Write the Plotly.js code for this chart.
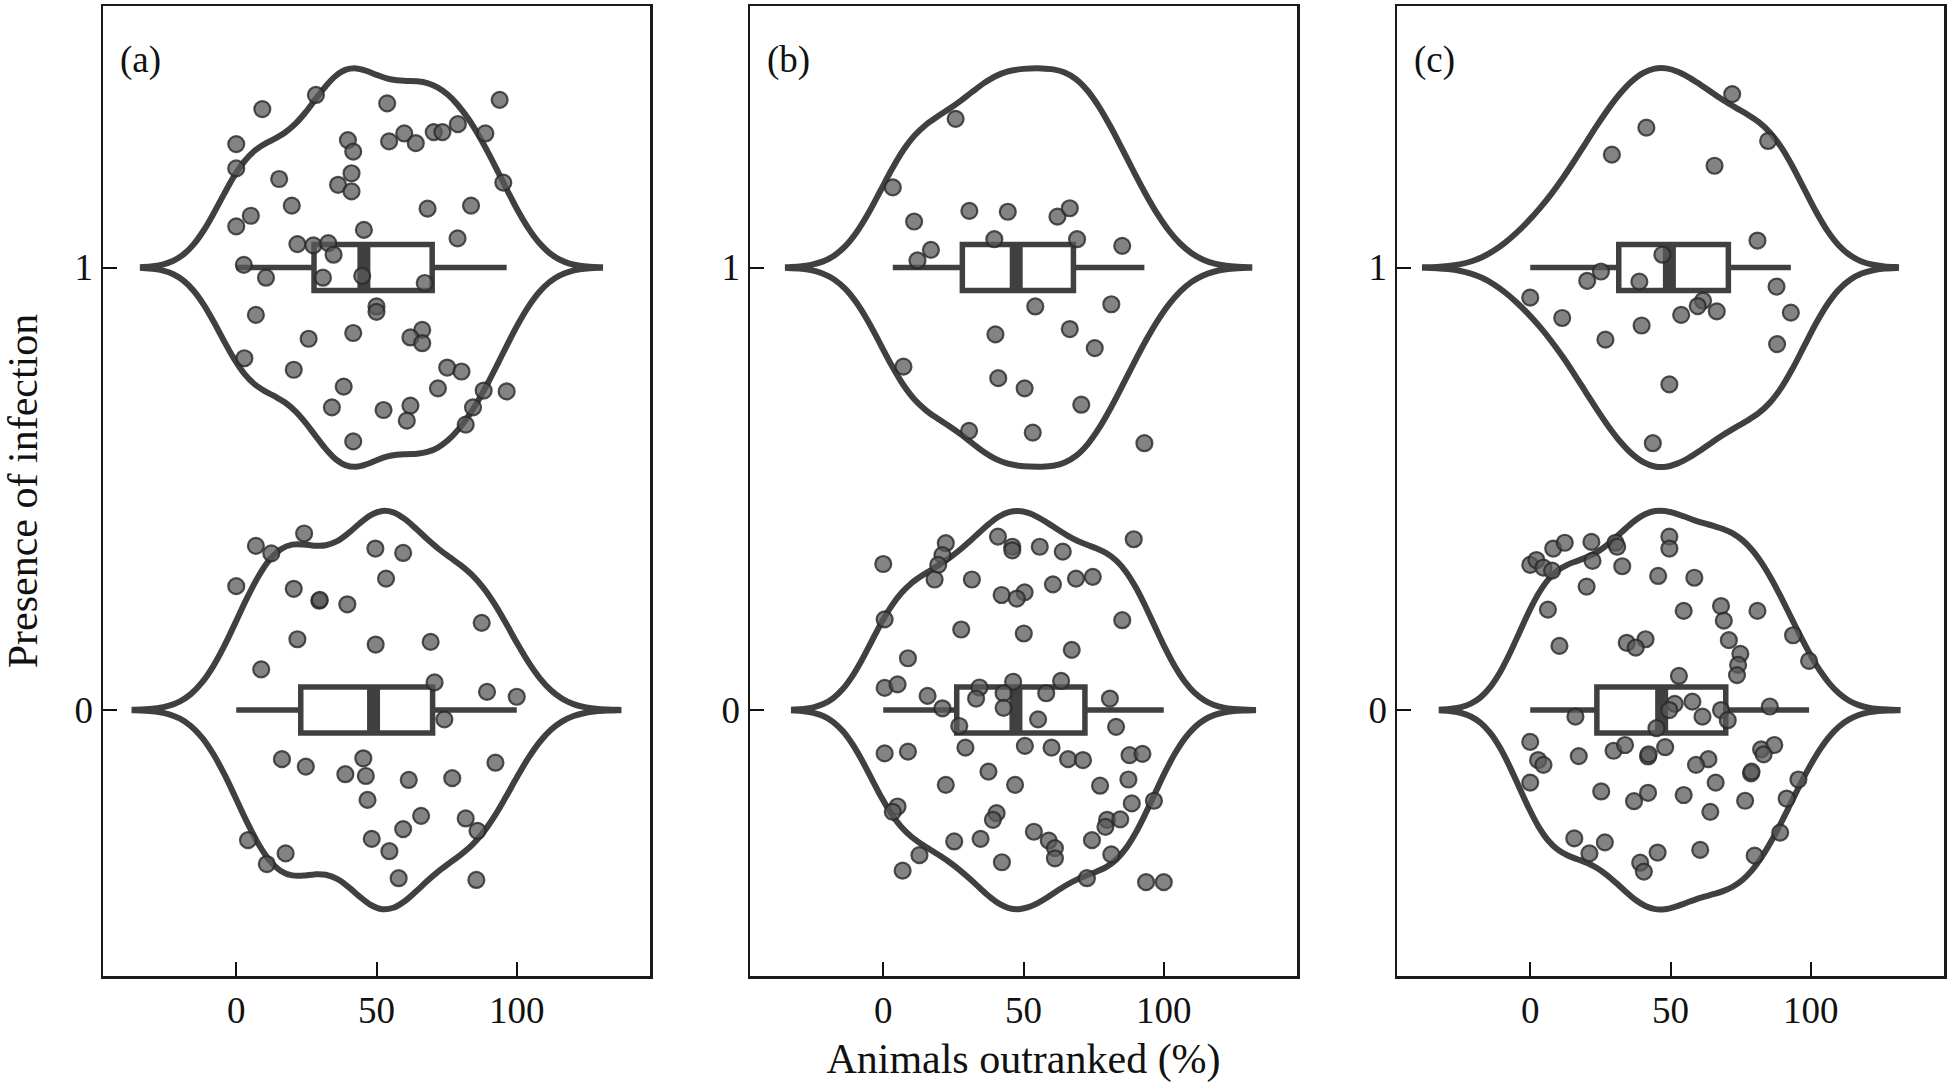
<!DOCTYPE html>
<html><head><meta charset="utf-8">
<script src="https://cdn.plot.ly/plotly-3.0.1.min.js"></script>
<style>html,body{margin:0;padding:0;background:#fff}#chart{width:1950px;height:1084px}</style>
</head><body><div id="chart"></div>
<script>
// ---------- data ----------
const panelLabels = ['(a)', '(b)', '(c)'];
const infectionLevels = [1, 0];
const xTickVals = [0, 50, 100];
const yTickVals = [0, 1];
const xTitle = 'Animals outranked (%)';
const yTitle = 'Presence of infection';

// (a) infected (1)
const aTopX = [28.4, 9.3, 53.8, 93.9, 0, 0, 15.3, 39.8, 41.7, 41.1, 36.3, 41.1, 54.5, 59.9, 64, 70.4, 73.5, 79, 88.8, 95.2, 19.8, 68.2, 83.7, 0, 5.2, 45.5, 78.9, 21.8, 27.5, 32.8, 34.7, 2.7, 10.6, 30.9, 44.9, 67.2, 50, 50, 7, 25.8, 41.7, 66.3, 62.1, 66.3, 2.9, 20.5, 75.2, 80.3, 38.3, 71.9, 88.2, 96.4, 34.1, 52.5, 62.1, 60.8, 84.4, 81.8, 41.7];
const aTopJit = [0.39, 0.358, 0.371, 0.379, 0.279, 0.224, 0.2, 0.288, 0.262, 0.213, 0.187, 0.172, 0.285, 0.303, 0.281, 0.306, 0.306, 0.324, 0.303, 0.192, 0.14, 0.133, 0.14, 0.093, 0.117, 0.085, 0.066, 0.053, 0.05, 0.055, 0.029, 0.006, -0.023, -0.023, -0.019, -0.035, -0.088, -0.1, -0.107, -0.161, -0.148, -0.141, -0.158, -0.171, -0.205, -0.231, -0.226, -0.235, -0.269, -0.273, -0.278, -0.28, -0.316, -0.322, -0.312, -0.346, -0.316, -0.355, -0.393];
// (a) not infected (0)
const aBotX = [24.2, 7, 12.5, 49.6, 59.5, 53.4, 0, 20.5, 29.6, 29.8, 39.6, 87.5, 21.8, 49.7, 69.3, 8.9, 70.7, 89.4, 100, 74.2, 16.3, 24.8, 45.3, 38.9, 46.2, 61.5, 77, 92.4, 46.8, 65.9, 59.5, 81.8, 86, 4.2, 17.6, 10.9, 48.3, 54.6, 57.9, 85.6];
const aBotJit = [0.399, 0.371, 0.354, 0.365, 0.355, 0.297, 0.28, 0.274, 0.247, 0.249, 0.239, 0.197, 0.16, 0.148, 0.154, 0.092, 0.0625, 0.041, 0.03, -0.021, -0.111, -0.128, -0.109, -0.145, -0.149, -0.158, -0.154, -0.119, -0.203, -0.239, -0.269, -0.245, -0.273, -0.294, -0.324, -0.348, -0.291, -0.319, -0.38, -0.384];

// (b)
const bTopX = [25.8, 3.4, 11, 30.7, 44.4, 62.1, 66.5, 17, 12.2, 39.6, 69.1, 85.2, 54.2, 81.3, 40, 66.5, 75.4, 7.2, 41, 50.4, 70.6, 30.6, 53.3, 93.1];
const bTopJit = [0.336, 0.181, 0.104, 0.128, 0.126, 0.115, 0.134, 0.04, 0.016, 0.064, 0.064, 0.049, -0.088, -0.083, -0.151, -0.139, -0.182, -0.224, -0.25, -0.273, -0.31, -0.369, -0.373, -0.397];
const bBotX = [40.9, 46, 46, 22.3, 21.1, 19.6, 18.3, 0, 55.8, 64,
  89.3, 31.6, 60.5, 68.7, 74.7, 42.2, 50.4, 47.6, 0.5, 85.2,
  27.8, 50.1, 67.2, 8.8, 0.5, 5.1, 15.8, 21.1, 34.3, 33.1,
  46.3, 42.9, 42.9, 63.4, 58.1, 80.8, 27.1, 55.2, 83, 0.5,
  8.8, 29.3, 50.5, 60, 65.9, 71.2, 87.8, 92.4, 37.5, 22.3,
  47, 77.3, 87.4, 96.5, 88.6, 5.1, 3.4, 40.4, 39.1, 79.8,
  84.5, 79.2, 53.7, 59, 61.2, 61.2, 25.3, 34.7, 74.4, 12.9,
  81.3, 42.3, 6.9, 72.6, 93.7, 100];
const bBotJit = [0.392, 0.369, 0.361, 0.377, 0.35, 0.328, 0.295, 0.33, 0.369, 0.358,
  0.386, 0.295, 0.284, 0.297, 0.301, 0.26, 0.266, 0.252, 0.205, 0.203,
  0.182, 0.173, 0.136, 0.117, 0.05, 0.058, 0.032, 0.004, 0.051, 0.026,
  0.064, 0.038, 0.005, 0.066, 0.038, 0.026, -0.036, -0.021, -0.038, -0.098,
  -0.094, -0.085, -0.081, -0.085, -0.111, -0.113, -0.102, -0.099, -0.139, -0.169,
  -0.169, -0.171, -0.157, -0.205, -0.211, -0.218, -0.23, -0.233, -0.248, -0.248,
  -0.247, -0.264, -0.275, -0.295, -0.312, -0.335, -0.297, -0.291, -0.294, -0.328,
  -0.326, -0.344, -0.363, -0.38, -0.389, -0.389];

// (c)
const cTopX = [72, 41.4, 29.1, 84.8, 65.7, 81, 47.1, 25.2, 20.3, 38.9, 0, 87.8, 61.6, 59.7, 53.8, 66.5, 92.9, 11.4, 39.7, 26.8, 88, 49.6, 43.7];
const cTopJit = [0.392, 0.316, 0.255, 0.286, 0.23, 0.061, 0.029, -0.009, -0.03, -0.032, -0.068, -0.043, -0.075, -0.087, -0.107, -0.099, -0.102, -0.114, -0.131, -0.163, -0.173, -0.264, -0.397];
const cBotX = [0, 2.2, 4.7, 7.8, 8.2, 12.3, 21.8, 30.4, 31, 22.2,
  32.8, 49.6, 49.6, 45.6, 58.5, 20.1, 6.3, 54.7, 68, 69,
  81, 70.8, 10.4, 34.4, 41.1, 37.6, 93.7, 74.9, 74.1, 73.7,
  99.4, 53, 51.5, 57.8, 49.6, 61.4, 68, 70.4, 85.4, 16.1,
  45, 0, 29.7, 33.8, 48.1, 42, 42.2, 17.3, 2.8, 4.7,
  82.3, 87, 83.2, 63.5, 59.1, 78.7, 78.9, 0, 66.1, 95.6,
  25.3, 42, 37, 54.7, 76.6, 91.4, 64.2, 89.1, 15.7, 26.6,
  21.1, 45.4, 60.6, 39.2, 40.5, 80];
const cBotJit = [0.328, 0.339, 0.322, 0.315, 0.365, 0.378, 0.38, 0.378, 0.369, 0.337,
  0.325, 0.392, 0.365, 0.303, 0.299, 0.279, 0.227, 0.224, 0.235, 0.202,
  0.224, 0.158, 0.145, 0.152, 0.16, 0.141, 0.169, 0.127, 0.102, 0.079,
  0.111, 0.077, 0.014, 0.019, 0, -0.015, 0, -0.023, 0.008, -0.015,
  -0.041, -0.072, -0.092, -0.079, -0.084, -0.105, -0.1, -0.104, -0.113, -0.124,
  -0.089, -0.079, -0.1, -0.111, -0.124, -0.143, -0.139, -0.164, -0.164, -0.157,
  -0.184, -0.187, -0.206, -0.192, -0.205, -0.2, -0.23, -0.277, -0.29, -0.299,
  -0.324, -0.322, -0.316, -0.345, -0.365, -0.329];

// ---------- helpers ----------
function quantile(sorted, p) {
  const h = (sorted.length - 1) * p, lo = Math.floor(h);
  const hi = Math.min(lo + 1, sorted.length - 1);
  return sorted[lo] + (h - lo) * (sorted[hi] - sorted[lo]);
}
function bwNrd0(v) {
  const n = v.length, m = v.reduce((a, b) => a + b, 0) / n;
  const sd = Math.sqrt(v.reduce((a, b) => a + (b - m) * (b - m), 0) / (n - 1));
  const s = [...v].sort((a, b) => a - b);
  const iqr = quantile(s, 0.75) - quantile(s, 0.25);
  return 0.9 * Math.min(sd, iqr / 1.34) * Math.pow(n, -0.2);
}

const panelData = [
  [[aTopX, aTopJit], [aBotX, aBotJit]],
  [[bTopX, bTopJit], [bBotX, bBotJit]],
  [[cTopX, cTopJit], [cBotX, cBotJit]]
];

// ---------- style ----------
const LC = '#404040';
const FONT = '"Liberation Serif", "Times New Roman", serif';
const VIOLIN_W = 0.9;
const BOX_FRAC = 0.1155;
const halfBox = VIOLIN_W / 2 * BOX_FRAC;

const traces = [];
const medianTraces = [];
const pointTraces = [];
panelData.forEach((groups, pi) => {
  const xa = pi === 0 ? 'x' : 'x' + (pi + 1);
  const ya = pi === 0 ? 'y' : 'y' + (pi + 1);
  groups.forEach(([vals, jit], gi) => {
    const level = infectionLevels[gi];
    const bw = bwNrd0(vals);
    const mn = Math.min(...vals), mx = Math.max(...vals);
    traces.push({
      type: 'violin', orientation: 'h', x: vals, y0: level,
      xaxis: xa, yaxis: ya, width: VIOLIN_W,
      scalegroup: 'p' + pi, scalemode: 'width',
      bandwidth: bw, spanmode: 'manual', span: [mn - 3 * bw, mx + 3 * bw],
      points: false, fillcolor: 'rgba(0,0,0,0)',
      line: {color: LC, width: 6},
      box: {visible: true, width: BOX_FRAC, fillcolor: '#ffffff', line: {color: LC, width: 5.5}},
      meanline: {visible: false}, showlegend: false, hoverinfo: 'skip'
    });
    const s = [...vals].sort((a, b) => a - b);
    const med = quantile(s, 0.5);
    medianTraces.push({
      type: 'scatter', mode: 'lines', x: [med, med], y: [level - halfBox, level + halfBox],
      xaxis: xa, yaxis: ya, line: {color: LC, width: 13}, showlegend: false, hoverinfo: 'skip'
    });
    pointTraces.push({
      type: 'scatter', mode: 'markers', x: vals, y: vals.map((_, k) => level + jit[k]),
      xaxis: xa, yaxis: ya, showlegend: false, hoverinfo: 'skip',
      marker: {size: 16, color: 'rgba(90,90,90,0.75)', line: {color: 'rgba(40,40,40,0.8)', width: 2.2}}
    });
  });
});

const W = 547 / 1841, G = 100 / 1841;
const domains = [[0, W], [W + G, 2 * W + G], [2 * W + 2 * G, 1]];

function xAxis(pi) {
  return {
    domain: domains[pi], anchor: pi === 0 ? 'y' : 'y' + (pi + 1),
    range: [-47.5, 147.5], tickvals: xTickVals, ticks: 'inside', ticklen: 14, tickwidth: 2, tickcolor: '#111',
    showline: true, mirror: true, linecolor: '#1a1a1a', linewidth: 2.5,
    showgrid: false, zeroline: false,
    tickfont: {family: FONT, size: 37, color: '#111'},
    title: pi === 1 ? {text: xTitle, font: {family: FONT, size: 42, color: '#111'}, standoff: 14} : {text: ''}
  };
}
function yAxis(pi) {
  return {
    anchor: pi === 0 ? 'x' : 'x' + (pi + 1), domain: [0, 1],
    range: [-0.601, 1.591], tickvals: yTickVals, ticks: 'inside', ticklen: 14, tickwidth: 2, tickcolor: '#111',
    showline: true, mirror: true, linecolor: '#1a1a1a', linewidth: 2.5,
    showgrid: false, zeroline: false,
    tickfont: {family: FONT, size: 37, color: '#111'},
    title: pi === 0 ? {text: yTitle, font: {family: FONT, size: 42, color: '#111'}, standoff: 26} : {text: ''}
  };
}

const layout = {
  width: 1950, height: 1084,
  margin: {l: 103, r: 6, t: 6, b: 108},
  paper_bgcolor: '#fff', plot_bgcolor: '#fff',
  showlegend: false, hovermode: false,
  xaxis: xAxis(0), xaxis2: xAxis(1), xaxis3: xAxis(2),
  yaxis: yAxis(0), yaxis2: yAxis(1), yaxis3: yAxis(2),
  annotations: panelLabels.map((t, pi) => ({
    text: t, showarrow: false,
    xref: (pi === 0 ? 'x' : 'x' + (pi + 1)) + ' domain',
    yref: (pi === 0 ? 'y' : 'y' + (pi + 1)) + ' domain',
    x: 0.027, y: 0.944, xanchor: 'left', yanchor: 'middle',
    font: {family: FONT, size: 37, color: '#111'}
  }))
};

Plotly.newPlot('chart', traces.concat(medianTraces, pointTraces), layout, {displayModeBar: false, staticPlot: true});
</script></body></html>
